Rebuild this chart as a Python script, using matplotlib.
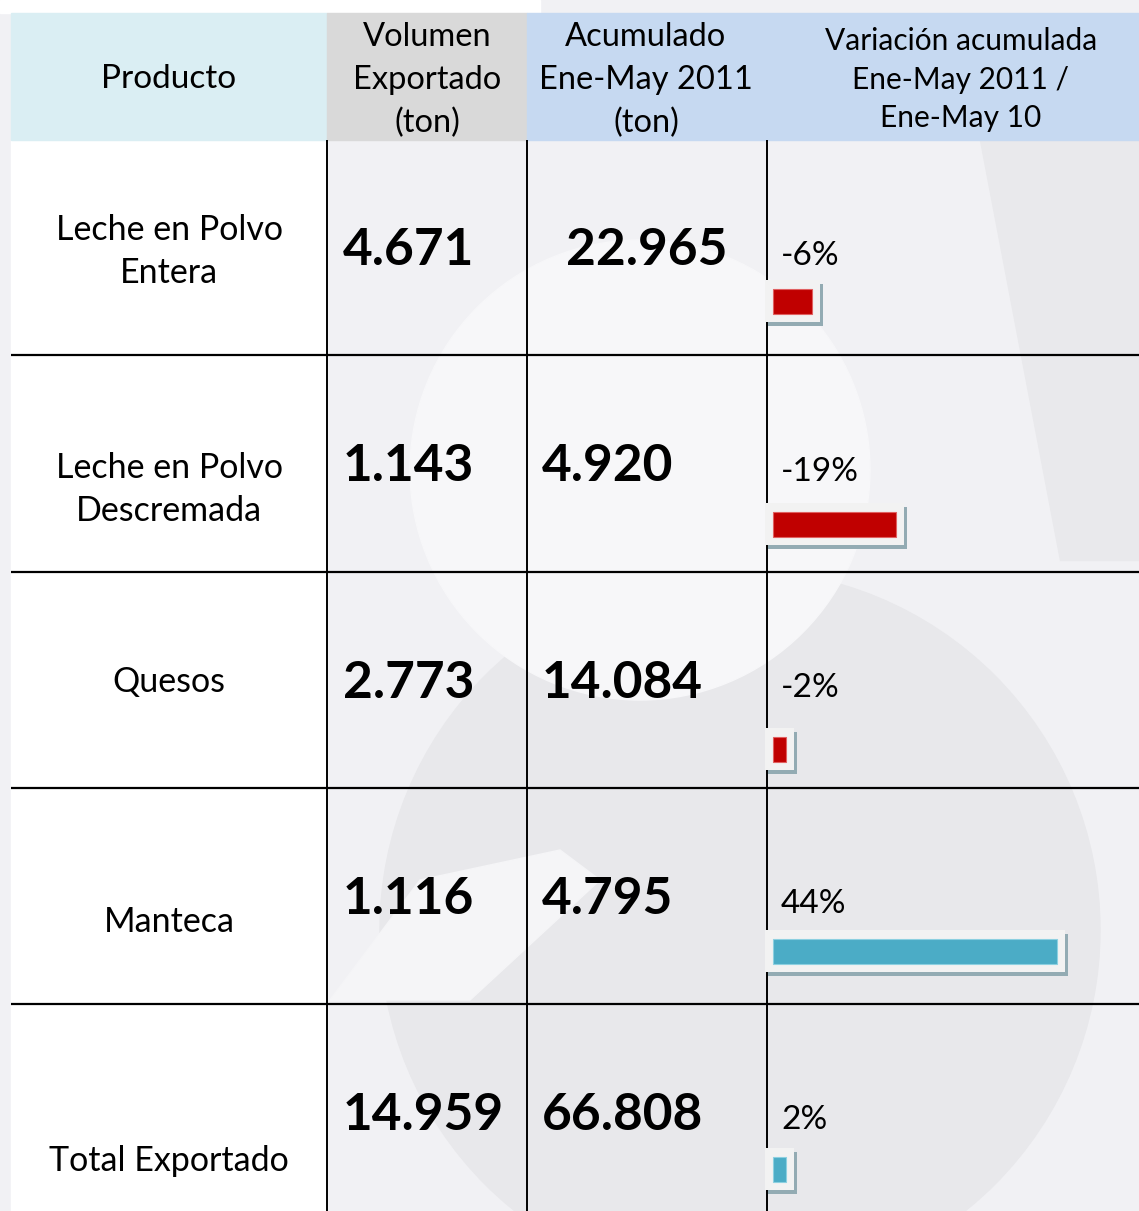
# export table: dairy products, Jan-May 2011, with bars for the cumulative variation
import matplotlib.pyplot as plt
from matplotlib.patches import Rectangle, Circle, Polygon

plt.rcParams['font.family'] = ['Lato', 'DejaVu Sans']

# data
productos = ['Leche en Polvo\nEntera', 'Leche en Polvo\nDescremada', 'Quesos', 'Manteca', 'Total Exportado']
volumen = [4671, 1143, 2773, 1116, 14959]
acumulado = [22965, 4920, 14084, 4795, 66808]
variacion = [-6, -19, -2, 44, 2]

header_producto = 'Producto'
header_volumen = ['Volumen', 'Exportado', '(ton)']
header_acumulado = ['Acumulado', 'Ene-May 2011', '(ton)']
header_variacion = ['Variación acumulada', 'Ene-May 2011 /', 'Ene-May 10']

# layout in pixels
W, H = 1139, 1211
x_left, x_c1, x_c2, x_c3 = 11, 327, 527, 767
head_top, head_bot = 13, 140
row_lines = [140, 355, 572, 788, 1004, H]
label_dy = [2, 24, 0, 24, 47]      # product labels sit lower in some rows
bar_y = [301, 524, 749, 951, 1169]
pct_y = [256, 472, 688, 904, 1120]
bar_x0 = 773
px_per_pct = 6.45


def fmt(v):
    return f'{v:,}'.replace(',', '.')


fig = plt.figure(figsize=(W / 100, H / 100), dpi=100)
fig.patch.set_facecolor('#F1F1F4')
ax = fig.add_axes([0, 0, 1, 1])
ax.set_xlim(0, W)
ax.set_ylim(H, 0)
ax.axis('off')

# faint watermark behind the table
ax.add_patch(Circle((740, 930), 360, color='#E8E8EB', zorder=0))
ax.add_patch(Circle((640, 470), 230, color='#F7F7F9', zorder=0.1))
ax.add_patch(Polygon([(980, 140), (1139, 140), (1139, 560), (1060, 560)], color='#E9E9EC', zorder=0.1))
ax.add_patch(Polygon([(330, 1000), (420, 880), (560, 850), (600, 880), (470, 1000)], color='#F5F5F7', zorder=0.1))
ax.add_patch(Rectangle((0, 0), 540, head_top, color='#FFFFFF', zorder=0.1))

# product column is plain white
ax.add_patch(Rectangle((x_left, head_bot), x_c1 - x_left, H - head_bot, color='#FFFFFF', zorder=0.5))

# header cells
ax.add_patch(Rectangle((x_left, head_top), x_c1 - x_left, head_bot - head_top, color='#DAEEF3', zorder=1))
ax.add_patch(Rectangle((x_c1, head_top), x_c2 - x_c1, head_bot - head_top, color='#D9D9D9', zorder=1))
ax.add_patch(Rectangle((x_c2, head_top), W - x_c2, head_bot - head_top, color='#C6D9F1', zorder=1))

ax.text((x_left + x_c1) / 2, 79, header_producto, ha='center', va='center', fontsize=24, zorder=3)
for i, line in enumerate(header_volumen):
    ax.text((x_c1 + x_c2) / 2, 37 + 43 * i, line, ha='center', va='center', fontsize=23.5, zorder=3)
for i, line in enumerate(header_acumulado):
    ax.text(646, 37 + 43 * i, line, ha='center', va='center', fontsize=23.5, zorder=3)
for i, line in enumerate(header_variacion):
    ax.text(961, 41 + 38.5 * i, line, ha='center', va='center', fontsize=21.5, zorder=3)

# grid lines
ax.hlines(row_lines[1:-1], x_left, W, color='black', lw=1.6, zorder=2)
ax.vlines([x_c1, x_c2, x_c3], head_bot, H, color='black', lw=1.4, zorder=2)

# cell texts
for i in range(len(productos)):
    top, bot = row_lines[i], row_lines[i + 1]
    if i == len(productos) - 1:
        bot = 1220
    yc = (top + bot) / 2 + 3
    ax.text((x_left + x_c1) / 2, yc - 1 + label_dy[i], productos[i], ha='center', va='center',
            fontsize=24.5, linespacing=1.45, zorder=3)
    ax.text(343, yc, fmt(volumen[i]), ha='left', va='center', fontsize=37, fontweight='bold', zorder=3)
    if i == 0:
        ax.text((x_c2 + x_c3) / 2, yc, fmt(acumulado[i]), ha='center', va='center',
                fontsize=37, fontweight='bold', zorder=3)
    else:
        ax.text(542, yc, fmt(acumulado[i]), ha='left', va='center', fontsize=37, fontweight='bold', zorder=3)
    ax.text(781, pct_y[i], f'{variacion[i]}%', ha='left', va='center', fontsize=24, zorder=3)

# bars, in percent units
axb = fig.add_axes([0, 0, 1, 1])
axb.set_xlim(-bar_x0 / px_per_pct, (W - bar_x0) / px_per_pct)
axb.set_ylim(H, 0)
axb.axis('off')
axb.patch.set_alpha(0)

size = [abs(v) for v in variacion]
colors = ['#C00000' if v < 0 else '#4BACC6' for v in variacion]
edges = ['#E06060' if v < 0 else '#8CD0E0' for v in variacion]
pad_l = 8 / px_per_pct
pad_r = 8 / px_per_pct
shift = 3 / px_per_pct

axb.barh([y + 4 for y in bar_y], [s + pad_l + pad_r for s in size], left=-pad_l + shift,
         height=42, color='#93ABB3', zorder=1)
axb.barh(bar_y, [s + pad_l + pad_r for s in size], left=-pad_l, height=42, color='#F2F2F2', zorder=2)
axb.barh(bar_y, size, left=0, height=25, color=colors, edgecolor=edges, lw=0.8, zorder=3)

fig.savefig('out.png', dpi=100, facecolor=fig.get_facecolor())
